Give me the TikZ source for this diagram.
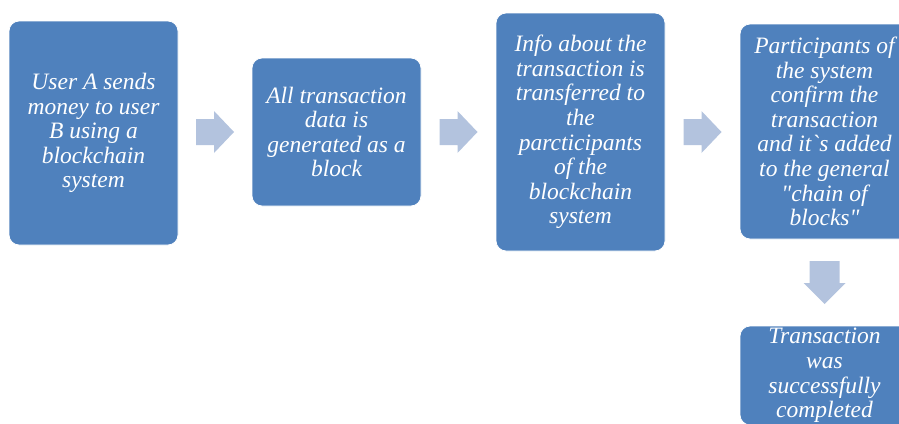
\documentclass[tikz,border=0pt]{standalone}
\usepackage{fontspec}
\setmainfont{Liberation Serif}[Ligatures=TeXOff]
\usetikzlibrary{calc}
\definecolor{stepblue}{HTML}{4F81BD}
\definecolor{arrowblue}{HTML}{B3C3DE}
\begin{document}
\begin{tikzpicture}[x=1pt,y=-1pt,
  stepbox/.style={fill=stepblue, draw=white, line width=0.8pt,
    rounded corners=10pt, minimum width=169pt, text=white,
    align=center, inner sep=0pt,
    font=\fontsize{23.5}{24.6}\selectfont\itshape},
  pics/rightarrow/.style={code={
    \fill[arrowblue] (-19,-13) -- (-1,-13) -- (-1,-21) -- (19,0)
      -- (-1,21) -- (-1,13) -- (-19,13) -- cycle;}},
  pics/downarrow/.style={code={
    \fill[arrowblue] (-15,-21.5) -- (15,-21.5) -- (15,0.5) -- (21,0.5)
      -- (0,21.5) -- (-21,0.5) -- (-15,0.5) -- cycle;}}]
  \useasboundingbox (0,0) rectangle (899,423);
  \clip (0,0) rectangle (899,423);

  % process steps
  \node[stepbox, minimum height=224pt] (s1) at (93.5,133)
    {User A sends\\money to user\\B using a\\blockchain\\system};
  \node[stepbox, minimum height=148pt] (s2) at (336.5,132)
    {All transaction\\data is\\generated as a\\block};
  \node[stepbox, minimum height=238pt] (s3) at (580.5,132)
    {Info about the\\transaction is\\transferred to\\the\\parcticipants\\of the\\blockchain\\system};
  \node[stepbox, minimum height=215pt] (s4) at (824.5,131.5)
    {Participants of\\the system\\confirm the\\transaction\\and it`s added\\to the general\\"chain of\\blocks"};
  \node[stepbox, minimum height=99pt] (s5) at (824.5,375.5)
    {Transaction\\was\\successfully\\completed};

  % block arrows between the steps
  \coordinate (a1) at ($(s1.east |- 0,132)!0.5!(s2.west |- 0,132)$);
  \coordinate (a2) at ($(s2.east |- 0,132)!0.5!(s3.west |- 0,132)$);
  \coordinate (a3) at ($(s3.east |- 0,132)!0.5!(s4.west |- 0,132)$);
  \coordinate (a4) at ($(s4.south)!0.5!(s5.north)$);
  \pic at (a1) {rightarrow};
  \pic at (a2) {rightarrow};
  \pic at (a3) {rightarrow};
  \pic at (a4) {downarrow};
\end{tikzpicture}
\end{document}
